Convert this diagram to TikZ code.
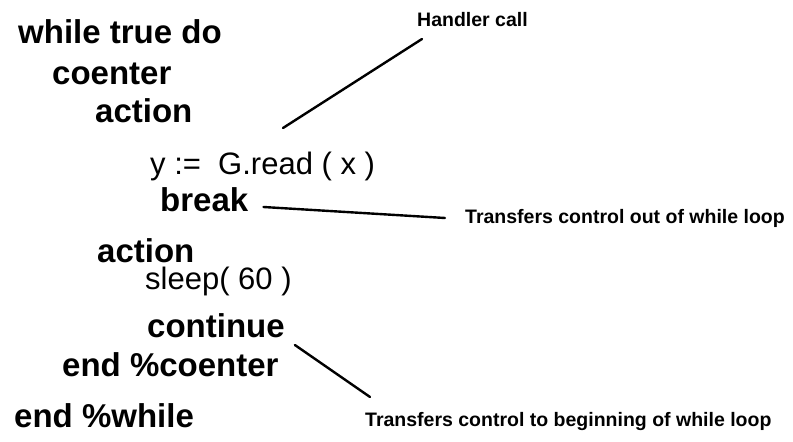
\documentclass[tikz,border=0pt]{standalone}
\usepackage{fontspec}
\setmainfont{Liberation Sans}
\begin{document}
\begin{tikzpicture}[x=1pt,y=1pt,
  kw/.style={font=\fontsize{33}{33}\selectfont\bfseries, anchor=base west, inner sep=0pt},
  rg/.style={font=\fontsize{31}{31}\selectfont, anchor=base west, inner sep=0pt},
  note/.style={font=\fontsize{19.5}{19.5}\selectfont\bfseries, anchor=base west, inner sep=0pt},
  lead/.style={line width=2.4pt, line cap=round}]
\useasboundingbox (0,0) rectangle (793,442);
% code lines
\node[kw] (l1) at (18,398) {while true do};
\node[kw] (l2) at (52,357) {coenter};
\node[kw] (l3) at (95,319) {action};
\node[rg] (rd) at (150,267) {y\ :=\ \ G.read\ (\ x\ )};
\node[kw] (brk) at (160,230) {break};
\node[kw] (l6) at (97,179) {action};
\node[rg] (slp) at (145,152) {sleep(\ 60\ )};
\node[kw] (cont) at (147,104) {continue};
\node[kw] (l9) at (62,65) {end \%coenter};
\node[kw] (l10) at (14,14) {end \%while};
% annotations
\node[note] (hc) at (417,415) {Handler call};
\node[note] (outl) at (465,218) {Transfers control out of while loop};
\node[note] (begl) at (365,16) {Transfers control to beginning of while loop};
% leaders
\draw[lead] ([shift={(5,-12)}]hc.base west) -- ([shift={(133,47)}]rd.base west);
\draw[lead] ([shift={(15,5)}]brk.base east) -- ([shift={(-20,6)}]outl.base west);
\draw[lead] ([shift={(10,-7)}]cont.base east) -- ([shift={(5,29)}]begl.base west);
\end{tikzpicture}
\end{document}
